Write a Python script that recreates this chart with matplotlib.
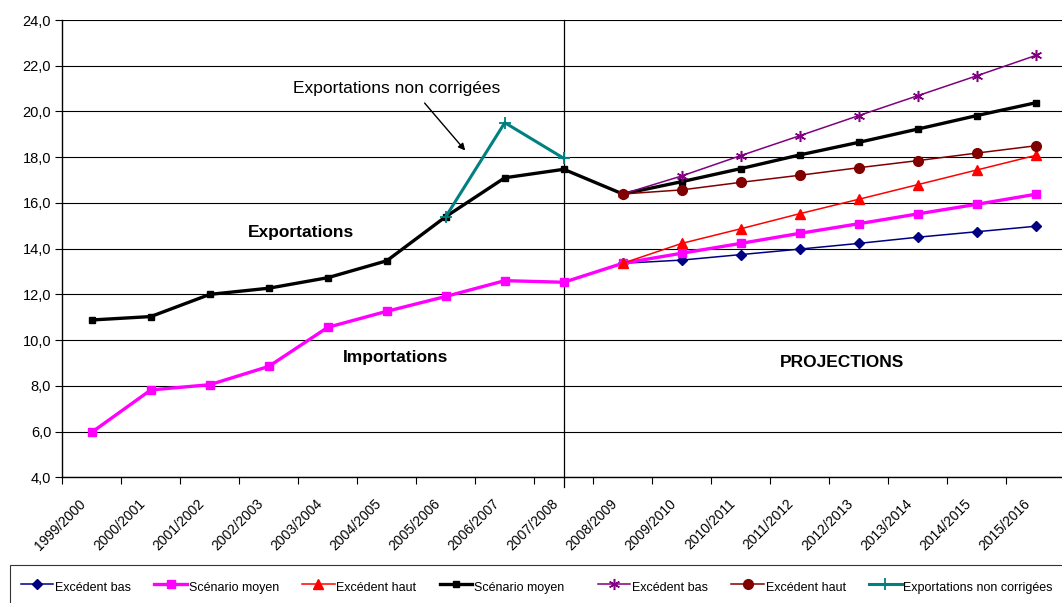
import numpy as np
import matplotlib
matplotlib.use("Agg")
import matplotlib.pyplot as plt

plt.rcParams['font.family'] = ['Liberation Sans', 'DejaVu Sans']

# Years on the x axis
years = ["1999/2000", "2000/2001", "2001/2002", "2002/2003", "2003/2004",
         "2004/2005", "2005/2006", "2006/2007", "2007/2008", "2008/2009",
         "2009/2010", "2010/2011", "2011/2012", "2012/2013", "2013/2014",
         "2014/2015", "2015/2016"]

nan = np.nan

# Importations
imp_bas = [nan] * 9 + [13.36, 13.50, 13.74, 13.98, 14.23, 14.50, 14.74, 14.98]
imp_moyen = [5.97, 7.82, 8.05, 8.85, 10.56, 11.26, 11.91, 12.60, 12.53,
             13.36, 13.80, 14.23, 14.67, 15.09, 15.52, 15.94, 16.38]
imp_haut = [nan] * 9 + [13.36, 14.23, 14.87, 15.53, 16.16, 16.80, 17.44, 18.08]

# Exportations
exp_moyen = [10.88, 11.03, 12.00, 12.27, 12.73, 13.47, 15.40, 17.10, 17.47,
             16.39, 16.93, 17.50, 18.10, 18.65, 19.23, 19.82, 20.38]
exp_bas = [nan] * 9 + [16.39, 17.18, 18.07, 18.94, 19.82, 20.69, 21.56, 22.45]
exp_haut = [nan] * 9 + [16.39, 16.57, 16.90, 17.21, 17.54, 17.85, 18.18, 18.50]
exp_non_corr = [nan] * 6 + [15.40, 19.51, 17.95] + [nan] * 8

x = np.arange(len(years))

fig = plt.figure(figsize=(10.62, 6.03), dpi=100)
ax = fig.add_axes([62.3 / 1062, 1 - 477.3 / 603, 1003 / 1062, 457.3 / 603])

ax.plot(x, imp_bas, color='#000080', lw=1.1, marker='D', ms=5, label="Excédent bas")
ax.plot(x, imp_moyen, color='#FF00FF', lw=2.4, marker='s', ms=6, label="Scénario moyen")
ax.plot(x, imp_haut, color='#FF0000', lw=1.1, marker='^', ms=6.5, label="Excédent haut")
ax.plot(x, exp_moyen, color='black', lw=2.4, marker='s', ms=4.5, label="Scénario moyen   ")
ax.plot(x, exp_bas, color='#800080', lw=1.1, marker=(6, 2, 0), ms=8, mew=1.1,
        label="Excédent bas")
ax.plot(x, exp_haut, color='#800000', lw=1.1, marker='o', ms=7, label="Excédent haut")
ax.plot(x, exp_non_corr, color='#008080', lw=2.2, marker='+', ms=9, mew=1.3,
        label="Exportations non corrigées")

# separation between history and projections
ax.axvline(8, ymin=-0.022, ymax=1, color='black', lw=0.9, clip_on=False, zorder=1)

ax.set_xlim(-0.5, len(years) - 0.5)
ax.set_ylim(4, 24)
ax.set_yticks(np.arange(4, 24.1, 2))
ax.set_yticklabels([f"{v:.1f}".replace(".", ",") for v in np.arange(4, 24.1, 2)],
                   fontsize=10.5)
ax.grid(axis='y', color='black', lw=0.8)
ax.set_axisbelow(True)

# labels sit a little left of the category centre, as in the original
ax.set_xticks(x - 0.22)
ax.set_xticklabels(years, rotation=45, ha='right', rotation_mode='anchor', fontsize=10)
ax.set_xticks(np.arange(-0.5, len(years), 1), minor=True)
ax.tick_params(axis='x', which='major', length=0, pad=14)
ax.tick_params(axis='x', which='minor', length=5, width=0.8)
ax.tick_params(axis='y', length=5, width=0.8, pad=3)

ax.spines['top'].set_visible(False)
ax.spines['right'].set_visible(False)
ax.spines['left'].set_linewidth(1)
ax.spines['bottom'].set_linewidth(1)

ax.text(3.405, 20.79, "Exportations non corrigées", fontsize=12.5, va='baseline')
ax.annotate("", xy=(6.36, 18.20), xytext=(5.61, 20.46),
            arrowprops=dict(arrowstyle='-|>', color='black', lw=1, mutation_scale=10))
ax.text(2.65, 14.52, "Exportations", fontsize=12.5, fontweight='bold', va='baseline')
ax.text(4.25, 9.03, "Importations", fontsize=12.5, fontweight='bold', va='baseline')
ax.text(11.66, 8.84, "PROJECTIONS", fontsize=12.5, fontweight='bold', va='baseline')

leg = fig.legend(loc='upper left', bbox_to_anchor=(9.5 / 1062, 1 - 565 / 603), ncol=7,
                 fontsize=9, handlelength=2.6, handletextpad=0.15, columnspacing=1.85,
                 handleheight=2.3, frameon=True, fancybox=False, borderpad=0.9,
                 borderaxespad=0)
leg.get_frame().set_edgecolor('black')
leg.get_frame().set_linewidth(0.8)

plt.savefig("out.png", dpi=100)
